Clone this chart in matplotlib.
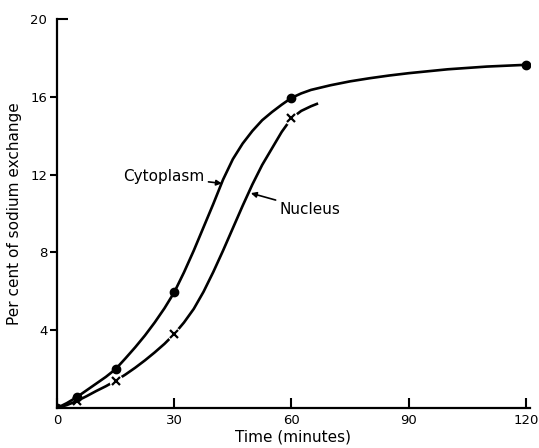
"""
Sodium exchange in cytoplasm and nucleus over time
"""

import matplotlib
matplotlib.use("Agg")
import matplotlib.pyplot as plt
from matplotlib.ticker import FixedLocator, FixedFormatter

# measured points
cyto_t = [0, 5, 15, 30, 60, 120]
cyto_pct = [0, 0.55, 2.0, 5.95, 15.95, 17.65]
nuc_t = [5, 15, 30, 60]
nuc_pct = [0.35, 1.4, 3.8, 14.9]

# hand-drawn curves
cyto_curve_t = [0, 2.5, 5, 7.5, 10, 12.5, 15, 17.5, 20, 22.5, 25, 27.5,
                30, 32.5, 35, 37.5, 40, 42.5, 45, 47.5, 50, 52.5, 55, 57.5,
                60, 62.5, 65, 70, 75, 80, 85, 90, 100, 110, 120, 121.5]
cyto_curve_pct = [0, 0.25, 0.55, 0.9, 1.25, 1.6, 2.0, 2.55, 3.12, 3.73,
                  4.4, 5.13, 5.95, 6.98, 8.1, 9.3, 10.5, 11.75, 12.8, 13.6,
                  14.25, 14.8, 15.22, 15.6, 15.95, 16.18, 16.36, 16.6,
                  16.8, 16.96, 17.1, 17.22, 17.42, 17.56, 17.65, 17.67]
nuc_curve_t = [0, 2.5, 5, 7.5, 10, 12.5, 15, 17.5, 20, 22.5, 25, 27.5, 30,
               32.5, 35, 37.5, 40, 42.5, 45, 47.5, 50, 52.5, 55, 57.5, 60,
               62.5, 65, 66.5]
nuc_curve_pct = [0, 0.15, 0.35, 0.6, 0.87, 1.12, 1.4, 1.72, 2.07, 2.45,
                 2.86, 3.3, 3.8, 4.4, 5.1, 5.98, 7.0, 8.1, 9.25, 10.4,
                 11.5, 12.5, 13.35, 14.2, 14.9, 15.28, 15.52, 15.64]

x_ticks = [0, 30, 60, 90, 120]
y_ticks = [4, 8, 12, 16]
y_top = [20]

fig = plt.figure(figsize=(5.39, 4.48), dpi=100)
ax = fig.add_axes([0.1058, 0.0893, 0.8772, 0.868])

# curves
ax.plot(cyto_curve_t, cyto_curve_pct, color="black", lw=1.9, zorder=2,
        solid_joinstyle="round")
ax.plot(nuc_curve_t, nuc_curve_pct, color="black", lw=1.9, zorder=2,
        solid_joinstyle="round")

# break the nucleus line around its markers
ax.plot(nuc_t[1:], nuc_pct[1:], "o", color="white", ms=10, mew=0, zorder=3)

ax.plot(cyto_t, cyto_pct, "o", color="black", ms=6, zorder=4)
ax.plot(nuc_t, nuc_pct, "x", color="black", ms=5.5, mew=1.6, zorder=4)

# labels with pointer arrows
ax.annotate("Cytoplasm", xy=(42.2, 11.55), xytext=(16.9, 11.9),
            fontsize=11, va="center", ha="left",
            arrowprops=dict(arrowstyle="-|>", color="black", lw=1.2,
                            mutation_scale=8, shrinkA=1, shrinkB=0))
ax.annotate("Nucleus", xy=(49.6, 11.05), xytext=(57.0, 10.2),
            fontsize=11, va="center", ha="left",
            arrowprops=dict(arrowstyle="-|>", color="black", lw=1.2,
                            mutation_scale=8, shrinkA=1, shrinkB=0))

ax.set_xlim(0, 121)
ax.set_ylim(0, 20)

for side in ("top", "right"):
    ax.spines[side].set_visible(False)
for side in ("left", "bottom"):
    ax.spines[side].set_linewidth(1.6)

ax.set_xticks(x_ticks)
ax.set_xticklabels([str(v) for v in x_ticks])
ax.set_yticks(y_ticks)
ax.set_yticklabels([str(v) for v in y_ticks])
ax.yaxis.set_minor_locator(FixedLocator(y_top))
ax.yaxis.set_minor_formatter(FixedFormatter([str(v) for v in y_top]))

ax.tick_params(axis="x", direction="in", length=7, width=1.5,
               labelsize=9.5, pad=4)
ax.tick_params(axis="y", which="major", direction="out", length=5,
               width=1.5, labelsize=9.5, pad=2)
ax.tick_params(axis="y", which="minor", direction="in", length=8,
               width=1.5, labelsize=9.5, pad=7)

ax.set_xlabel("Time (minutes)", fontsize=11, labelpad=2)
ax.set_ylabel("Per cent of sodium exchange", fontsize=11, labelpad=6)

fig.savefig("out.png", dpi=100)
